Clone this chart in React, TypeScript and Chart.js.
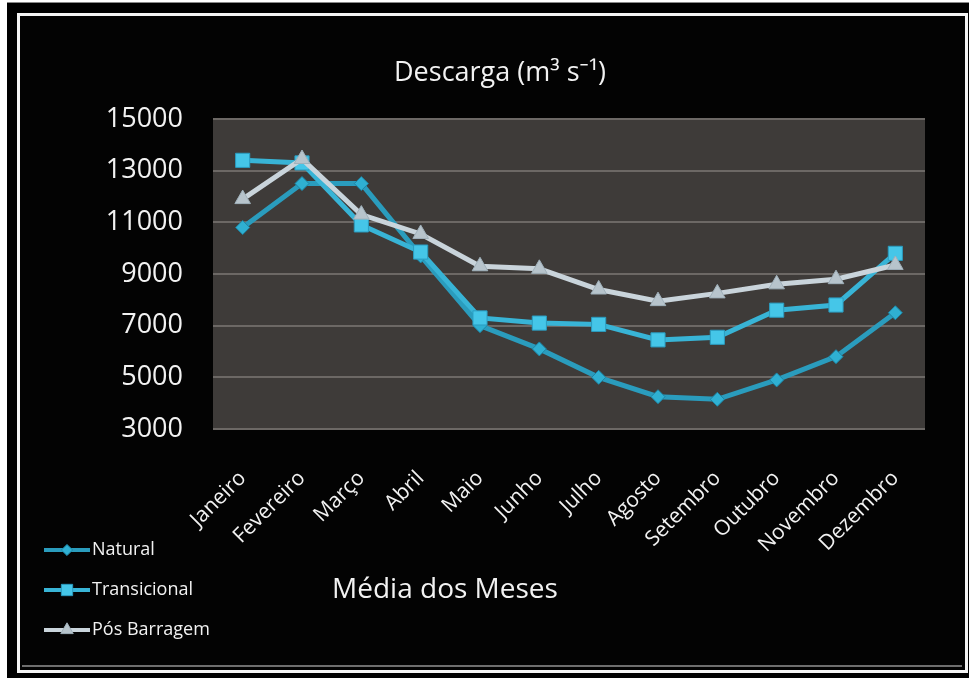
import React, { useEffect, useRef } from 'react';
import { Chart, registerables } from 'chart.js';

Chart.register(...registerables);

const months = ['Janeiro', 'Fevereiro', 'Março', 'Abril', 'Maio', 'Junho', 'Julho', 'Agosto', 'Setembro', 'Outubro', 'Novembro', 'Dezembro'];
const natural = [10800, 12500, 12500, 9700, 7000, 6100, 5000, 4250, 4150, 4900, 5800, 7500];
const transicional = [13400, 13300, 10900, 9850, 7300, 7100, 7050, 6450, 6550, 7600, 7800, 9800];
const posBarragem = [11900, 13450, 11300, 10550, 9300, 9200, 8400, 7950, 8250, 8600, 8800, 9350];
const yTickValues = [3000, 5000, 7000, 9000, 11000, 13000, 15000];
const seriesNames = ['Natural', 'Transicional', 'Pós Barragem'];
const chartTitle = 'Descarga (m³ s⁻¹)';
const xAxisTitle = 'Média dos Meses';

const FONT = '"Open Sans", "Noto Sans", sans-serif';

const styles = [
  { line: '#2a9cbd', fill: '#2fb0d2', stroke: '#1c86a6', point: 'rectRot', radius: 7 },
  { line: '#38b4d6', fill: '#45c6e8', stroke: '#2a9cc0', point: 'rect', radius: 10 },
  { line: '#c9d4db', fill: '#b7c4cc', stroke: '#9fb0ba', point: 'triangle', radius: 9 },
];

function drawMarker(ctx: CanvasRenderingContext2D, kind: string, x: number, y: number, r: number, fill: string, stroke: string) {
  ctx.save();
  ctx.beginPath();
  if (kind === 'rectRot') {
    ctx.moveTo(x, y - r);
    ctx.lineTo(x + r, y);
    ctx.lineTo(x, y + r);
    ctx.lineTo(x - r, y);
  } else if (kind === 'rect') {
    const s = r * Math.SQRT1_2;
    ctx.rect(x - s, y - s, 2 * s, 2 * s);
  } else {
    for (let i = 0; i < 3; i++) {
      const a = (i * 2 * Math.PI) / 3;
      const px = x + Math.sin(a) * r;
      const py = y - Math.cos(a) * r;
      if (i === 0) ctx.moveTo(px, py); else ctx.lineTo(px, py);
    }
  }
  ctx.closePath();
  ctx.fillStyle = fill;
  ctx.fill();
  ctx.lineWidth = 1;
  ctx.strokeStyle = stroke;
  ctx.stroke();
  ctx.restore();
}

const decorPlugin = {
  id: 'decor',
  beforeDraw(chart: any) {
    const { ctx, chartArea } = chart;
    ctx.save();
    ctx.fillStyle = '#3e3b39';
    ctx.fillRect(chartArea.left, chartArea.top, chartArea.right - chartArea.left, chartArea.bottom - chartArea.top);
    ctx.restore();
  },
  afterDraw(chart: any) {
    const { ctx } = chart;
    ctx.save();
    ctx.fillStyle = '#f2f2f2';
    ctx.textAlign = 'center';
    ctx.textBaseline = 'middle';
    ctx.font = `27px ${FONT}`;
    ctx.fillText(chartTitle, 500, 73);
    ctx.font = `28px ${FONT}`;
    ctx.fillText(xAxisTitle, 445, 590);

    ctx.textAlign = 'left';
    ctx.font = `18px ${FONT}`;
    const ys = [550, 590, 630];
    chart.data.datasets.forEach((ds: any, i: number) => {
      const st = styles[i];
      const y = ys[i];
      ctx.beginPath();
      ctx.strokeStyle = st.line;
      ctx.lineWidth = 4;
      ctx.moveTo(44, y);
      ctx.lineTo(90, y);
      ctx.stroke();
      drawMarker(ctx, st.point, 67, y, st.radius * 0.8, st.fill, st.stroke);
      ctx.fillStyle = '#f2f2f2';
      ctx.fillText(ds.label, 92, y);
    });
    ctx.restore();
  },
};

export default function App() {
  const ref = useRef<HTMLCanvasElement>(null);

  useEffect(() => {
    document.body.style.margin = '0';
    const series = [natural, transicional, posBarragem];
    const chart = new Chart(ref.current!, {
      type: 'line',
      data: {
        labels: months,
        datasets: series.map((d, i) => ({
          label: seriesNames[i],
          data: d,
          borderColor: styles[i].line,
          backgroundColor: styles[i].fill,
          pointBackgroundColor: styles[i].fill,
          pointBorderColor: styles[i].stroke,
          pointBorderWidth: 1,
          pointStyle: styles[i].point as any,
          pointRadius: styles[i].radius,
          borderWidth: 5,
          tension: 0,
          order: 2 - i,
        })),
      },
      options: {
        animation: false,
        responsive: false,
        maintainAspectRatio: false,
        layout: { padding: { left: 0, right: 44, top: 119, bottom: 0 } },
        plugins: {
          legend: { display: false },
          tooltip: { enabled: false },
          title: { display: false },
        },
        scales: {
          x: {
            offset: true,
            grid: { display: false },
            border: { display: false },
            ticks: {
              color: '#f2f2f2',
              font: { family: FONT, size: 21 },
              minRotation: 45,
              maxRotation: 45,
              padding: 29,
              autoSkip: false,
            },
            afterFit: (s: any) => { s.height = 249; },
          },
          y: {
            min: 3000,
            max: 15000,
            grid: { color: '#6c6865', lineWidth: 2, drawTicks: false },
            border: { display: false },
            afterBuildTicks: (s: any) => { s.ticks = yTickValues.map((v) => ({ value: v })); },
            ticks: {
              color: '#f2f2f2',
              font: { family: FONT, size: 27 },
              padding: 30,
              callback: (v: any) => String(v),
            },
            afterFit: (s: any) => { s.width = 213; },
          },
        },
      },
      plugins: [decorPlugin],
    });
    return () => chart.destroy();
  }, []);

  return (
    <div style={{ position: 'relative', width: 969, height: 678, background: '#ffffff', overflow: 'hidden' }}>
      <div style={{ position: 'absolute', left: 7, top: 2, width: 962, height: 676, background: '#000', borderTop: '1px solid #888' }} />
      <div style={{ position: 'absolute', left: 17, top: 13, width: 945, height: 654, border: '3px solid #f4f4f4', background: '#030303' }} />
      <div style={{ position: 'absolute', left: 22, top: 665, width: 940, height: 2, background: '#6e6e6e' }} />
      <canvas ref={ref} width={969} height={678} style={{ position: 'absolute', left: 0, top: 0, width: 969, height: 678 }} />
    </div>
  );
}
